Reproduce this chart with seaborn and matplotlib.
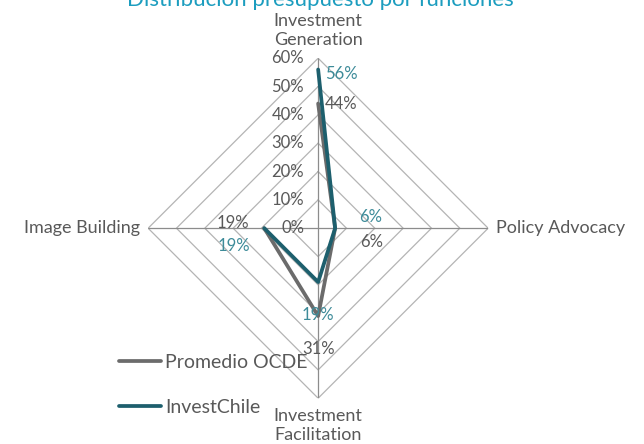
import numpy as np
import matplotlib
matplotlib.use("Agg")
import matplotlib.pyplot as plt
import seaborn as sns

# ////////////////////// DATA
categories = ["Investment\nGeneration", "Policy Advocacy", "Investment\nFacilitation", "Image Building"]
ocde = [0.44, 0.06, 0.31, 0.19]
chile = [0.56, 0.06, 0.19, 0.19]
levels = [0.1, 0.2, 0.3, 0.4, 0.5, 0.6]
series_names = ["Promedio OCDE", "InvestChile"]

# ////////////////////// STYLE
sns.set_style("white")
plt.rcParams["font.family"] = ["Lato", "DejaVu Sans"]

GRAY_LINE = "#6b6b6b"
TEAL_LINE = "#1d5f6d"
TEAL_TXT = "#3d8b99"
TXT = "#595959"
GRID = "#b4b4b4"

fig = plt.figure(figsize=(6.44, 4.44), dpi=100)
ax = fig.add_axes([0.494 - 0.264, 0.486 - 0.383, 0.528, 0.766], projection="polar")
ax.set_theta_zero_location("N")
ax.set_theta_direction(-1)
ax.set_ylim(0, 0.6)
ax.axis("off")

theta = np.arange(len(categories)) * 2 * np.pi / len(categories)
theta_c = np.append(theta, theta[0])

# diamond grid + spokes
for lvl in levels:
    ax.plot(theta_c, [lvl] * 5, color=GRID, lw=0.9, zorder=1)
for t in theta:
    ax.plot([t, t], [0, 0.6], color="#8c8c8c", lw=0.9, zorder=1)

# radial tick labels
for lvl in [0.0] + levels:
    ax.annotate(f"{int(round(lvl * 100))}%", xy=(0, lvl), xytext=(-14, 0),
                textcoords="offset pixels", ha="right", va="center",
                fontsize=12, color=TXT)

# series
sns.lineplot(x=theta_c, y=np.append(ocde, ocde[0]), sort=False, ax=ax,
             color=GRAY_LINE, lw=2.7, label=series_names[0], zorder=3)
sns.lineplot(x=theta_c, y=np.append(chile, chile[0]), sort=False, ax=ax,
             color=TEAL_LINE, lw=2.7, label=series_names[1], zorder=4)

# data labels (offsets in pixels)
gray_off = [(7, 0, "left"), (36, -14, "center"), (0, -33, "center"), (-31, 5, "center")]
teal_off = [(7, -4, "left"), (35, 11, "center"), (0, -33, "center"), (-30, -18, "center")]
for t, v, (dx, dy, ha) in zip(theta, ocde, gray_off):
    ax.annotate(f"{int(round(v * 100))}%", xy=(t, v), xytext=(dx, dy),
                textcoords="offset pixels", ha=ha, va="center", fontsize=12, color=TXT, zorder=5)
for t, v, (dx, dy, ha) in zip(theta, chile, teal_off):
    ax.annotate(f"{int(round(v * 100))}%", xy=(t, v), xytext=(dx, dy),
                textcoords="offset pixels", ha=ha, va="center", fontsize=12, color=TEAL_TXT, zorder=5)

# category labels
cat_pos = [((0, 0.6), (0, 10), "center", "bottom"),
           ((theta[1], 0.6), (8, 0), "left", "center"),
           ((theta[2], 0.6), (0, -10), "center", "top"),
           ((theta[3], 0.6), (-8, 0), "right", "center")]
for lab, (xy, off, ha, va) in zip(categories, cat_pos):
    ax.annotate(lab, xy=xy, xytext=off, textcoords="offset pixels",
                ha=ha, va=va, fontsize=13, color=TXT, linespacing=1.25)

# legend
leg = ax.legend(loc="upper left", bbox_to_anchor=(101 / 644, 1 - 336 / 444),
                bbox_transform=fig.transFigure, frameon=False, fontsize=14,
                labelspacing=1.45, handlelength=2.2, handletextpad=0.2)
for txt in leg.get_texts():
    txt.set_color(TXT)

# title (cut at top edge as in the source)
fig.text(0.497, 1 - 6 / 444, "Distribución presupuesto por funciones",
         ha="center", va="baseline", fontsize=16, color="#1c9dbf")

fig.savefig("out.png", dpi=100)
